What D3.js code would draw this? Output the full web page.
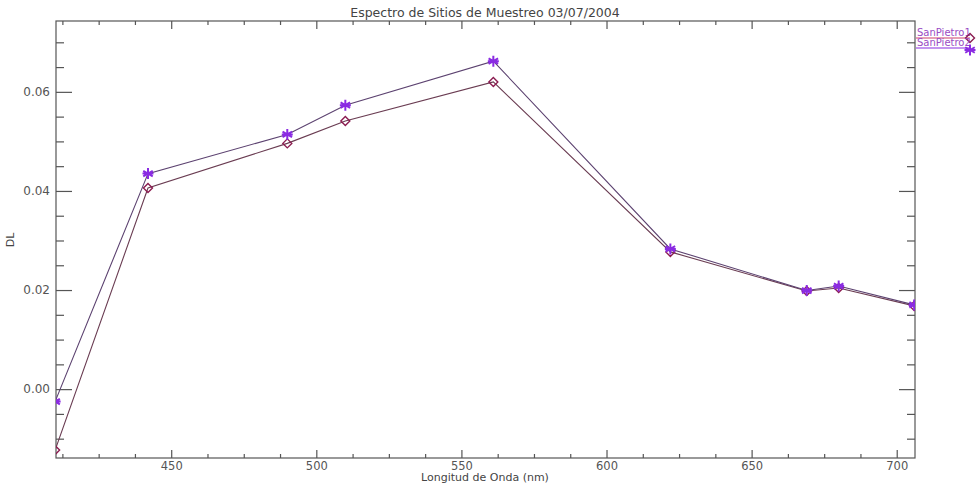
<!DOCTYPE html>
<html><head><meta charset="utf-8">
<script src="https://cdn.jsdelivr.net/npm/d3@7"></script>
<style>body{margin:0;background:#fff}svg{display:block}</style>
</head><body><svg id="c" width="976" height="483"></svg>
<script>
const wavelengths = [410, 442, 490, 510, 561, 622, 669, 680, 706];
const sanPietro1 = [-0.0123, 0.0406, 0.0496, 0.0541, 0.0620, 0.0277, 0.0198, 0.0204, 0.0168];
const sanPietro2 = [-0.0025, 0.0435, 0.0514, 0.0573, 0.0662, 0.0283, 0.0199, 0.0208, 0.0170];
const seriesNames = ["SanPietro1", "SanPietro2"];
const xMajorTicks = [450, 500, 550, 600, 650, 700];
const yMajorTicks = [0.00, 0.02, 0.04, 0.06];
const titleText = "Espectro de Sitios de Muestreo 03/07/2004";
const xTitle = "Longitud de Onda (nm)";
const yTitle = "DL";

const svg = d3.select("#c");
const L = 56, R = 915, T = 21, B = 458;
const x = d3.scaleLinear().domain([410.3, 706.3]).range([L, R]);
const y = d3.scaleLinear().domain([-0.0139, 0.0743]).range([B, T]);
const axisCol = "#555";
const font = "'DejaVu Sans', sans-serif";

svg.append("defs").append("clipPath").attr("id","clip")
  .append("rect").attr("x",L).attr("y",T).attr("width",R-L).attr("height",B-T);

const xMinor = d3.range(412.5, 706.3, 12.5).filter(v => !xMajorTicks.includes(v));
const yMinor = d3.range(-0.010, 0.0743, 0.005).map(v => +v.toFixed(3)).filter(v => !yMajorTicks.some(t => Math.abs(t - v) < 1e-9));

const g = svg.append("g");
g.append("rect").attr("x",L).attr("y",T).attr("width",R-L).attr("height",B-T)
  .attr("fill","none").attr("stroke",axisCol).attr("stroke-width",1.2);

const xb = d3.axisBottom(x).tickValues(xMajorTicks).tickSize(-8).tickPadding(2).tickFormat(d3.format("d"));
const gxb = g.append("g").attr("transform",`translate(0,${B})`).call(xb);
const gxbm = g.append("g").attr("transform",`translate(0,${B})`).call(d3.axisBottom(x).tickValues(xMinor).tickSize(-4).tickFormat(""));
const gxt = g.append("g").attr("transform",`translate(0,${T})`).call(d3.axisTop(x).tickValues(xMajorTicks).tickSize(-8).tickFormat(""));
const gxtm = g.append("g").attr("transform",`translate(0,${T})`).call(d3.axisTop(x).tickValues(xMinor).tickSize(-4).tickFormat(""));
const gyl = g.append("g").attr("transform",`translate(${L},0)`).call(d3.axisLeft(y).tickValues(yMajorTicks).tickSize(-16).tickPadding(6).tickFormat(d3.format(".2f")));
const gylm = g.append("g").attr("transform",`translate(${L},0)`).call(d3.axisLeft(y).tickValues(yMinor).tickSize(-8).tickFormat(""));
const gyr = g.append("g").attr("transform",`translate(${R},0)`).call(d3.axisRight(y).tickValues(yMajorTicks).tickSize(-16).tickFormat(""));
const gyrm = g.append("g").attr("transform",`translate(${R},0)`).call(d3.axisRight(y).tickValues(yMinor).tickSize(-8).tickFormat(""));

[gxb,gxbm,gxt,gxtm,gyl,gylm,gyr,gyrm].forEach(a => {
  a.select(".domain").remove();
  a.selectAll("line").attr("stroke",axisCol).attr("stroke-width",1.2);
  a.selectAll("text").attr("fill","#555").style("font-family",font).style("font-size","12px");
});
gxb.selectAll("text").style("font-size","11.5px").attr("dy","0.85em");

svg.append("text").attr("x",485).attr("y",17).attr("text-anchor","middle")
  .style("font-family",font).style("font-size","12.5px").attr("fill","#444").text(titleText);
svg.append("text").attr("x",485).attr("y",481).attr("text-anchor","middle")
  .style("font-family",font).style("font-size","11px").attr("fill","#444").text(xTitle);
svg.append("text").attr("transform","translate(14,240) rotate(-90)").attr("text-anchor","middle")
  .style("font-family",font).style("font-size","11px").attr("fill","#444").text(yTitle);

const lineCols = ["#6a3c52", "#5c4270"];
const markCols = ["#8b1c50", "#8a2be2"];
const data = [sanPietro1, sanPietro2].map(vals => wavelengths.map((w,i) => ({w, v: vals[i]})));
const line = d3.line().x(d => x(d.w)).y(d => y(d.v));
const plot = svg.append("g").attr("clip-path","url(#clip)");

function diamond(sel, cx, cy, col){
  const r = 4.5;
  sel.append("path").attr("d",`M${cx},${cy-r}L${cx+r},${cy}L${cx},${cy+r}L${cx-r},${cy}Z`)
    .attr("fill","none").attr("stroke",col).attr("stroke-width",1.4);
}
function star(sel, cx, cy, col){
  const r = 5.5;
  const d = [];
  for (let k = 0; k < 3; k++) {
    const a = Math.PI/2 + k*Math.PI/3;
    d.push(`M${cx+r*Math.cos(a)},${cy+r*Math.sin(a)}L${cx-r*Math.cos(a)},${cy-r*Math.sin(a)}`);
  }
  d.push(`M${cx-r},${cy}L${cx+r},${cy}`);
  sel.append("path").attr("d",d.join("")).attr("stroke",col).attr("stroke-width",2).attr("fill","none");
}

data.forEach((s,i) => {
  plot.append("path").datum(s).attr("d",line).attr("fill","none").attr("stroke",lineCols[i]).attr("stroke-width",1.1);
});
data.forEach((s,i) => {
  s.forEach(d => {
    if (i === 0) diamond(plot, x(d.w), y(d.v), markCols[0]);
    else star(plot, x(d.w), y(d.v), markCols[1]);
  });
});

const lg = svg.append("g");
const legY = [38, 48];
seriesNames.forEach((n,i) => {
  lg.append("text").attr("x",917).attr("y",legY[i]-2).style("font-family",font).style("font-size","10px")
    .attr("fill","#9a4cc4").text(n);
  lg.append("line").attr("x1",916).attr("x2",970).attr("y1",legY[i]).attr("y2",legY[i])
    .attr("stroke", i===0 ? "#d0406a" : "#8a2be2").attr("stroke-width",1.2);
  if (i === 0) diamond(lg, 970, legY[i], markCols[0]);
  else star(lg, 970, legY[i]+2, markCols[1]);
});
</script></body></html>
